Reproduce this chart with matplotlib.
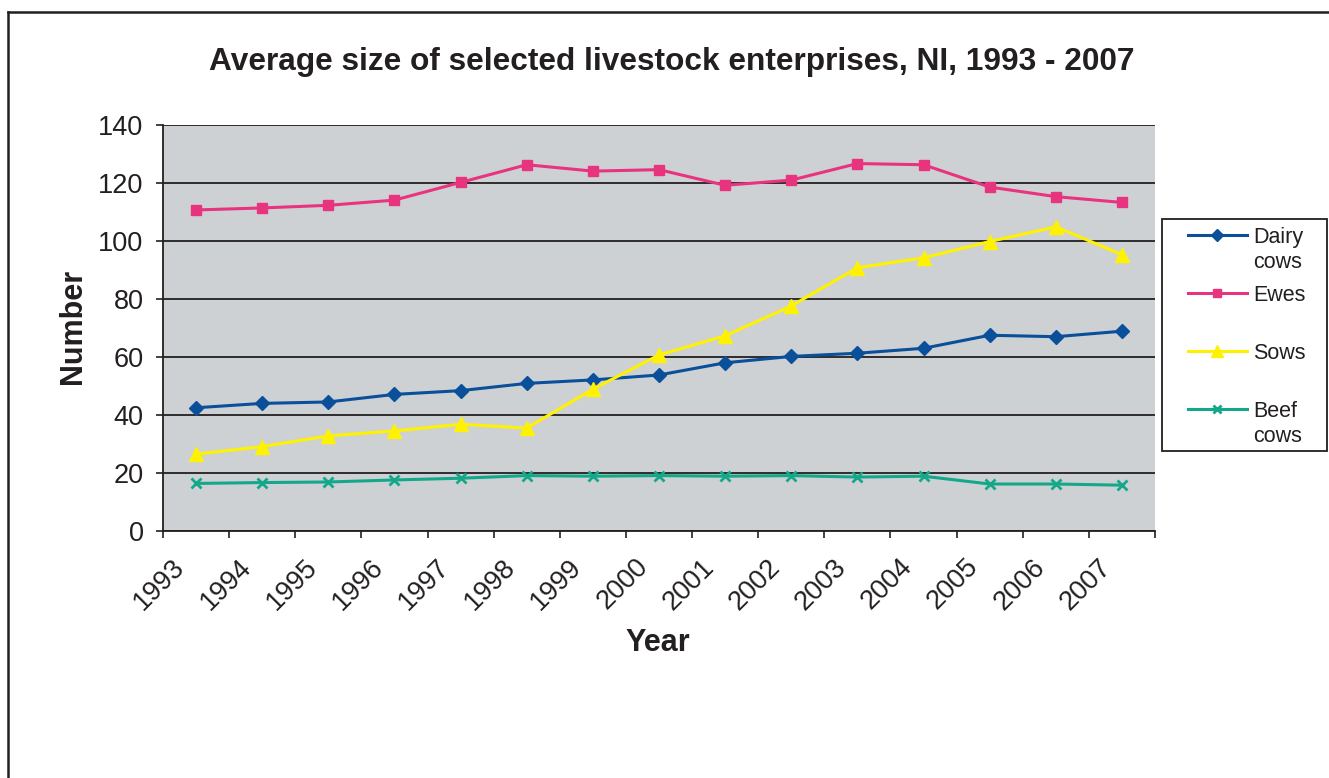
import matplotlib
matplotlib.use("Agg")
import matplotlib.pyplot as plt
import matplotlib.transforms as mtransforms
from matplotlib.lines import Line2D
from matplotlib.patches import Rectangle

plt.rcParams['font.family'] = ['Liberation Sans', 'DejaVu Sans']

years = ['1993', '1994', '1995', '1996', '1997', '1998', '1999', '2000',
         '2001', '2002', '2003', '2004', '2005', '2006', '2007']
dairy = [42.5, 44.0, 44.5, 47.1, 48.4, 50.9, 52.1, 53.8, 58.0, 60.2, 61.3, 63.0, 67.5, 67.0, 68.9]
ewes = [110.7, 111.4, 112.3, 114.1, 120.2, 126.3, 124.1, 124.6, 119.2, 121.0, 126.7, 126.3, 118.6, 115.3, 113.3]
sows = [26.5, 29.1, 32.8, 34.5, 36.8, 35.5, 48.9, 60.7, 67.3, 77.6, 90.8, 94.2, 99.8, 104.9, 95.3]
beef = [16.4, 16.7, 16.9, 17.6, 18.2, 19.1, 18.9, 19.1, 18.9, 19.1, 18.6, 18.9, 16.2, 16.2, 15.8]

names = ['Dairy\ncows', 'Ewes', 'Sows', 'Beef\ncows']
series = [dairy, ewes, sows, beef]
colors = ['#0A4F99', '#E8337F', '#FFF200', '#14A88A']
markers = ['D', 's', '^', 'x']
msizes = [7, 7.5, 9.5, 7]

W, H = 1329, 778
ink = '#231F20'

fig = plt.figure(figsize=(W / 100, H / 100), dpi=100)


def fx(x):
    return x / W


def fy(y):
    return 1 - y / H


# plot area (pixels): x 163..1155, y 125..531
ax = fig.add_axes([fx(163), fy(531), fx(1155) - fx(163), fy(125) - fy(531)])
ax.set_facecolor('#CED1D4')

xs = [i + 0.5 for i in range(len(years))]
for vals, c, m, ms in zip(series, colors, markers, msizes):
    ax.plot(xs, vals, color=c, lw=2.2, marker=m, ms=ms,
            mew=2 if m == 'x' else 1, mec=c, mfc=c, zorder=3)

ax.set_xlim(0, len(years))
ax.set_ylim(0, 140)
ax.set_yticks(range(0, 141, 20))
ax.yaxis.grid(True, color=ink, lw=1.3)
ax.set_axisbelow(True)

ax.set_xticks(range(len(years) + 1))
ax.set_xticklabels([])
ax.set_xticks(xs, minor=True)
ax.set_xticklabels(years, minor=True, rotation=45, ha='right', va='center',
                   rotation_mode='anchor', fontsize=19.5, color=ink)
ax.tick_params(axis='x', which='minor', length=0, pad=0)
ax.tick_params(axis='x', which='major', direction='out', length=5, width=1.2, color=ink)
ax.tick_params(axis='y', direction='out', length=5, width=1.2, color=ink,
               labelsize=19.5, labelcolor=ink, pad=9)

offset = mtransforms.ScaledTranslation(-15 / 100, -32 / 100, fig.dpi_scale_trans)
for lab in ax.get_xticklabels(minor=True):
    lab.set_transform(lab.get_transform() + offset)

for s in ['top', 'right']:
    ax.spines[s].set_visible(False)
for s in ['left', 'bottom']:
    ax.spines[s].set_color(ink)
    ax.spines[s].set_linewidth(1.3)

fig.text(fx(672), fy(62), 'Average size of selected livestock enterprises, NI, 1993 - 2007',
         ha='center', va='center', fontsize=22.8, fontweight='bold', color=ink)
fig.text(fx(658), fy(643), 'Year', ha='center', va='center',
         fontsize=22, fontweight='bold', color=ink)
fig.text(fx(73), fy(326), 'Number', ha='center', va='center', rotation=90,
         fontsize=22, fontweight='bold', color=ink)

# legend drawn by hand so the marker sits on the first line of each label
fig.add_artist(Rectangle((fx(1162), fy(451)), fx(1327) - fx(1162), fy(219) - fy(451),
                         transform=fig.transFigure, fill=False, ec=ink, lw=1.3))
for i, (name, c, m, ms) in enumerate(zip(names, colors, markers, msizes)):
    my = 235 + 58 * i
    fig.add_artist(Line2D([fx(1188), fx(1247)], [fy(my), fy(my)], transform=fig.transFigure,
                          color=c, lw=2.2))
    fig.add_artist(Line2D([fx(1217)], [fy(my)], transform=fig.transFigure, color=c,
                          marker=m, ms=ms * 0.85, mew=2 if m == 'x' else 1, mec=c, mfc=c))
    for j, line in enumerate(name.split('\n')):
        fig.text(fx(1253), fy(my + 8 + 25 * j), line, ha='left', va='baseline',
                 fontsize=15.5, color=ink)

# outer frame (runs off the right and bottom edges)
fig.add_artist(Line2D([fx(8), 1], [fy(12), fy(12)], transform=fig.transFigure, color=ink, lw=1.8))
fig.add_artist(Line2D([fx(8), fx(8)], [fy(12), 0], transform=fig.transFigure, color=ink, lw=1.8))

fig.savefig('out.png', dpi=100)
